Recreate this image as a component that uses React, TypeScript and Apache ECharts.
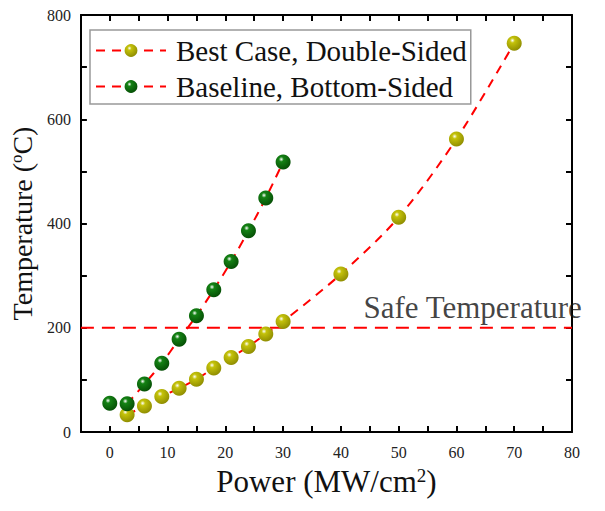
import React, { useEffect, useRef } from "react";
import * as echarts from "echarts";

const powerBest = [3, 6, 9, 12, 15, 18, 21, 24, 27, 30, 40, 50, 60, 70];
const tempBest = [33, 50, 68, 84, 101, 123, 143, 164, 188, 212, 303, 412, 562, 746];
const powerBase = [0, 3, 6, 9, 12, 15, 18, 21, 24, 27, 30];
const tempBase = [55, 54, 92, 132, 178, 223, 273, 327, 386, 449, 518];
const safeTemp = 200;
const xTickLabels = [0, 10, 20, 30, 40, 50, 60, 70, 80];
const yTickLabels = [0, 200, 400, 600, 800];

const FONT = "Liberation Serif";

function sphere(base: string, dark: string) {
  return new echarts.graphic.RadialGradient(0.38, 0.32, 0.75, [
    { offset: 0, color: "#ffffff" },
    { offset: 0.22, color: base },
    { offset: 1, color: dark },
  ]);
}

export default function App() {
  const ref = useRef<HTMLDivElement>(null);
  useEffect(() => {
    if (!ref.current) return;
    const chart = echarts.init(ref.current, null, { renderer: "svg" });
    const best = powerBest.map((p, i) => [p, tempBest[i]]);
    const base = powerBase.map((p, i) => [p, tempBase[i]]);
    const yellow = sphere("#c4c20a", "#8a8800");
    const green = sphere("#148214", "#044a04");
    const axisCommon = {
      axisLine: { show: true, onZero: false, lineStyle: { color: "#000", width: 2 } },
      splitLine: { show: false },
    };
    chart.setOption({
      animation: false,
      backgroundColor: "#fff",
      textStyle: { fontFamily: FONT },
      grid: { left: 79, top: 15, right: 33, bottom: 79 },
      legend: {
        data: ["Best Case, Double-Sided", "Baseline, Bottom-Sided"],
        orient: "vertical",
        left: 90,
        top: 30,
        padding: [6, 4, 3, 5],
        itemWidth: 70,
        itemHeight: 16,
        itemGap: 7,
        borderColor: "#999",
        borderWidth: 1.5,
        backgroundColor: "#fff",
        textStyle: { fontFamily: FONT, fontSize: 29, color: "#111", padding: [0, 0, 0, 5] },
        z: 10,
      },
      xAxis: [
        {
          type: "value",
          min: -5,
          max: 80,
          interval: 5,
          ...axisCommon,
          axisTick: { show: true, inside: true, length: 6, lineStyle: { color: "#000", width: 2 } },
          axisLabel: {
            fontFamily: FONT,
            fontSize: 16,
            color: "#222",
            margin: 12,
            formatter: (v: number) => (xTickLabels.includes(v) ? String(v) : ""),
          },
          name: "Power (MW/cm{sup|2})",
          nameLocation: "middle",
          nameGap: 34,
          nameTextStyle: {
            fontFamily: FONT,
            fontSize: 31,
            color: "#111",
            rich: { sup: { fontFamily: FONT, fontSize: 19, verticalAlign: "top", color: "#111" } },
          },
        },
        {
          type: "value",
          position: "top",
          min: -5,
          max: 80,
          interval: 5,
          ...axisCommon,
          axisTick: { show: true, inside: true, length: 6, lineStyle: { color: "#000", width: 2 } },
          axisLabel: { show: false },
        },
      ],
      yAxis: [
        {
          type: "value",
          min: 0,
          max: 800,
          interval: 100,
          ...axisCommon,
          axisTick: { show: true, inside: true, length: 6, lineStyle: { color: "#000", width: 2 } },
          axisLabel: {
            fontFamily: FONT,
            fontSize: 16,
            color: "#222",
            margin: 10,
            formatter: (v: number) => (yTickLabels.includes(v) ? String(v) : ""),
          },
          name: "Temperature ({sup|o}C)",
          nameLocation: "middle",
          nameGap: 44,
          nameTextStyle: {
            fontFamily: FONT,
            fontSize: 28,
            color: "#111",
            rich: { sup: { fontFamily: FONT, fontSize: 17, verticalAlign: "top", color: "#111" } },
          },
        },
        {
          type: "value",
          position: "right",
          min: 0,
          max: 800,
          interval: 100,
          ...axisCommon,
          axisTick: { show: true, inside: true, length: 6, lineStyle: { color: "#000", width: 2 } },
          axisLabel: { show: false },
        },
      ],
      series: [
        {
          name: "Safe line",
          type: "line",
          data: [[-5, safeTemp], [80, safeTemp]],
          symbol: "none",
          lineStyle: { color: "#ff0000", width: 2, type: [13, 8] },
          z: 1,
        },
        {
          name: "Safe label",
          type: "scatter",
          data: [[62.8, 238]],
          symbolSize: 0,
          label: {
            show: true,
            position: "inside",
            formatter: "Safe Temperature",
            fontFamily: FONT,
            fontSize: 31,
            color: "#111",
          },
          z: 2,
        },
        {
          name: "Best Case, Double-Sided",
          type: "line",
          data: best,
          smooth: 0.3,
          symbol: "circle",
          symbolSize: 15,
          itemStyle: { color: yellow, borderWidth: 0 },
          lineStyle: { color: "#ff0000", width: 2, type: [9, 7] },
          z: 3,
        },
        {
          name: "Baseline, Bottom-Sided",
          type: "line",
          data: base.slice(1),
          smooth: 0.3,
          symbol: "circle",
          symbolSize: 15,
          itemStyle: { color: green, borderWidth: 0 },
          lineStyle: { color: "#ff0000", width: 2, type: [9, 7] },
          z: 3,
        },
        {
          name: "Baseline start",
          type: "scatter",
          data: base.slice(0, 1),
          symbol: "circle",
          symbolSize: 15,
          itemStyle: { color: green, opacity: 1 },
          z: 3,
        },
      ],
    });
    return () => chart.dispose();
  }, []);
  return <div ref={ref} style={{ width: 605, height: 511, position: "absolute", left: 0, top: 0 }} />;
}
